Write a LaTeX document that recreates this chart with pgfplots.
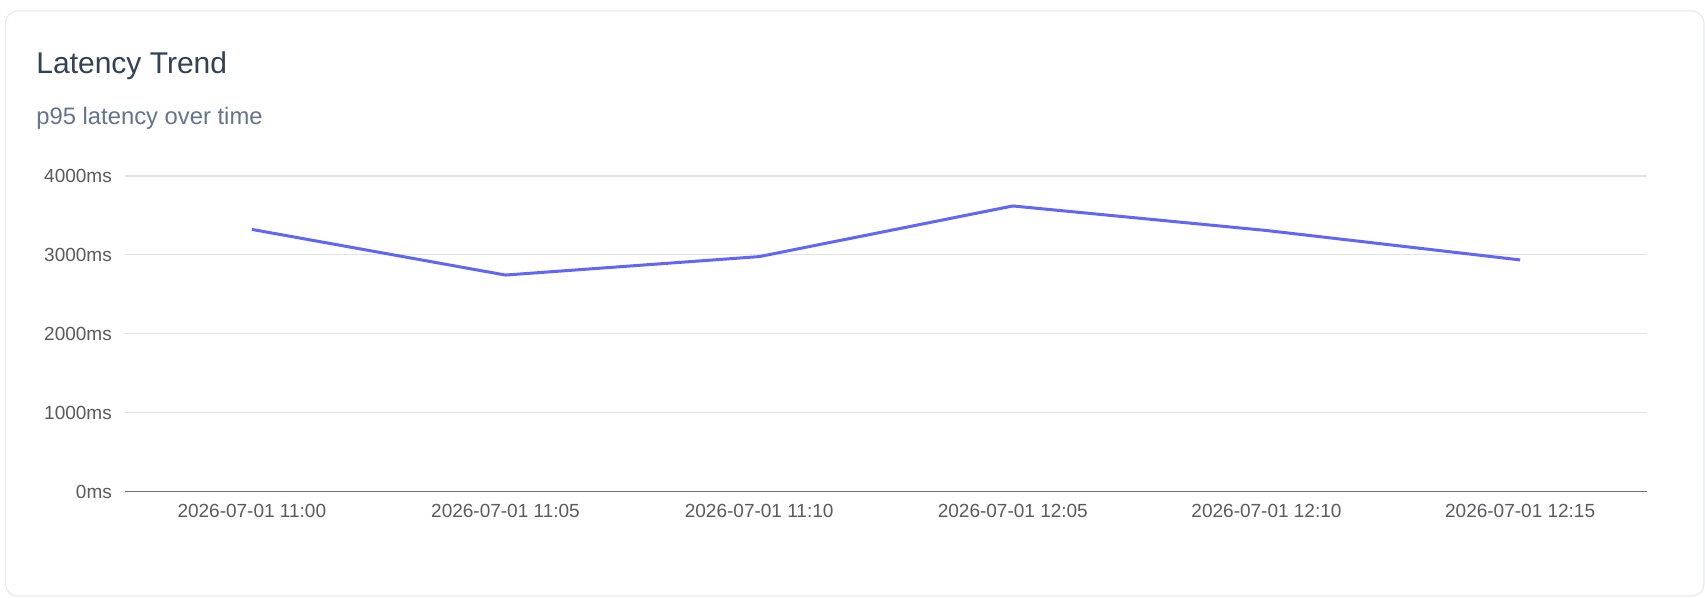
\documentclass[border=0pt]{standalone}
\usepackage{pgfplots}
\pgfplotsset{compat=1.18}
\usepackage{fontspec}
\setmainfont{Liberation Sans}

\definecolor{cardborder}{HTML}{E9EAEE}
\definecolor{titlecol}{HTML}{334155}
\definecolor{subcol}{HTML}{64748B}
\definecolor{tickcol}{HTML}{5A5A5F}
\definecolor{gridcol}{HTML}{E0E3EA}
\definecolor{axiscol}{HTML}{6E7079}
\definecolor{linecol}{HTML}{6366F1}

\begin{document}
\begin{tikzpicture}
\path[use as bounding box] (0,0) rectangle (852.5pt,299pt);
\draw[cardborder, line width=0.6pt, rounded corners=6pt, fill=white]
  (2.75pt,1pt) rectangle (852pt,293.5pt);
\node[anchor=base west, inner sep=0pt, text=titlecol,
  font=\fontsize{15}{18}\selectfont] at (18pt,262pt) {Latency Trend};
\node[anchor=base west, inner sep=0pt, text=subcol,
  font=\fontsize{11.9}{14}\selectfont] at (18pt,236.5pt) {p95 latency over time};

\begin{axis}[
  at={(62.5pt,53.25pt)}, anchor=south west,
  scale only axis, width=761pt, height=157.75pt,
  xmin=-0.5, xmax=5.5, ymin=0, ymax=4000,
  axis x line=bottom, axis y line=left,
  x axis line style={-, color=axiscol, line width=0.75pt},
  y axis line style={draw=none},
  tick style={draw=none},
  ymajorgrids, grid style={gridcol, line width=0.6pt},
  xtick={0,1,2,3,4,5},
  xticklabels={2026-07-01 11:00,2026-07-01 11:05,2026-07-01 11:10,
    2026-07-01 12:05,2026-07-01 12:10,2026-07-01 12:15},
  ytick={0,1000,2000,3000,4000},
  yticklabels={0ms,1000ms,2000ms,3000ms,4000ms},
  ticklabel style={font=\fontsize{9.5}{11}\selectfont, text=tickcol},
  xticklabel style={anchor=north, inner sep=0pt, yshift=-3.8pt},
  yticklabel style={anchor=east, inner sep=0pt, xshift=-4.25pt},
]
\addplot[linecol, line width=1.5pt, line join=round, mark=none] coordinates {
  (0, 3323)
  (1, 2744)
  (2, 2978)
  (3, 3620)
  (4, 3309)
  (5, 2936)
};
\end{axis}
\end{tikzpicture}
\end{document}
